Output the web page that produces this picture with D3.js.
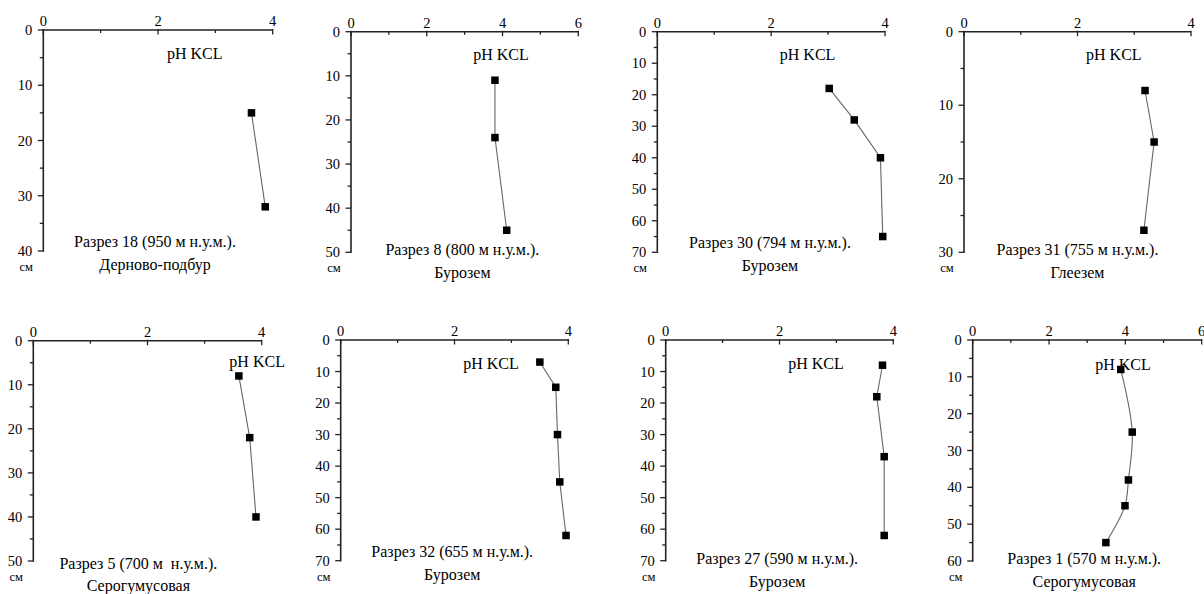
<!DOCTYPE html>
<html><head><meta charset="utf-8">
<script src="https://cdn.jsdelivr.net/npm/d3@7"></script>
</head>
<body style="margin:0">
<svg id="chart" width="1204" height="594"></svg>
<script>
// ---- data ----
const captions = [
  "Разрез 18 (950 м н.у.м.).",
  "Разрез 8 (800 м н.у.м.).",
  "Разрез 30 (794 м н.у.м.).",
  "Разрез 31 (755 м н.у.м.).",
  "Разрез 5 (700 м\u00A0 н.у.м.).",
  "Разрез 32 (655 м н.у.м.).",
  "Разрез 27 (590 м н.у.м.).",
  "Разрез 1 (570 м н.у.м.)."
];
const soilTypes = ["Дерново-подбур","Бурозем","Бурозем","Глеезем","Серогумусовая","Бурозем","Бурозем","Серогумусовая"];
const depths = [
  [15, 32],
  [11, 24, 45],
  [18, 28, 40, 65],
  [8, 15, 27],
  [8, 22, 40],
  [7, 15, 30, 45, 62],
  [8, 18, 37, 62],
  [8, 25, 38, 45, 55]
];
const phKCL = [
  [3.63, 3.87],
  [3.80, 3.80, 4.11],
  [3.02, 3.46, 3.92, 3.96],
  [3.19, 3.35, 3.17],
  [3.60, 3.79, 3.90],
  [3.50, 3.78, 3.81, 3.85, 3.96],
  [3.81, 3.71, 3.84, 3.84],
  [3.88, 4.18, 4.08, 3.99, 3.49]
];
const xMax = [4, 6, 4, 4, 4, 4, 4, 6];
const yMax = [40, 50, 70, 30, 50, 70, 70, 60];
const xTickLabels = { 4: [0, 2, 4], 6: [0, 2, 4, 6] };
const seriesLabel = "pH KCL";
const unitLabel = "см";

// ---- layout ----
const frames = [
  {x0:43.3, x1:272.7, y0:30,   y1:251},
  {x0:351,  x1:578.3, y0:31.7, y1:252.3},
  {x0:657.3,x1:885,   y0:31.7, y1:252.3},
  {x0:964,  x1:1191,  y0:31.7, y1:252.3},
  {x0:33.3, x1:261.7, y0:340.7,y1:561},
  {x0:340.7,x1:568.3, y0:340,  y1:560.7},
  {x0:665.7,x1:893.3, y0:340,  y1:560.7},
  {x0:972.7,x1:1201.7,y0:340,  y1:561}
];
const labelFrac = [0.66,0.66,0.66,0.66,0.98,0.66,0.66,0.656];
const labelOff  = [28.7,28,28,28,26.3,29.3,29.3,30];
const capFrac = [0.487,0.49,0.495,0.5,0.46,0.49,0.49,0.487];
const capBase = [247,255.3,247.7,255.3,569.3,557,563.7,564.3];
const smooth = [false,false,false,false,false,false,false,true];

const svg = d3.select("#chart");
const fam = "Liberation Serif";

function txt(size) {
  return svg.append("text").attr("font-size", size)
    .style("font-family", `"${fam}"`);
}

frames.forEach((f, i) => {
  const x = d3.scaleLinear().domain([0, xMax[i]]).range([f.x0, f.x1]);
  const y = d3.scaleLinear().domain([0, yMax[i]]).range([f.y0, f.y1]);

  const xMinor = d3.range(0, xMax[i] + 0.001, 1);
  const yMinor = d3.range(0, yMax[i] + 0.001, 5);
  const yMajor = d3.range(0, yMax[i] + 0.001, 10);

  xMinor.forEach(d => {
    svg.append("line").attr("x1", x(d)).attr("x2", x(d))
      .attr("y1", f.y0 - (d % 2 === 0 ? 1 : 0))
      .attr("y2", f.y0 + (d % 2 === 0 ? 4.5 : 3))
      .attr("stroke", "#222").attr("stroke-width", 1.3);
  });
  yMinor.forEach(d => {
    svg.append("line").attr("y1", y(d)).attr("y2", y(d))
      .attr("x1", f.x0).attr("x2", f.x0 - (d % 10 === 0 ? 5.5 : 3.5))
      .attr("stroke", "#222").attr("stroke-width", 1.3);
  });

  svg.append("line").attr("x1", f.x0 - 0.7).attr("x2", f.x1).attr("y1", f.y0).attr("y2", f.y0)
    .attr("stroke", "#222").attr("stroke-width", 1.6);
  svg.append("line").attr("x1", f.x0).attr("x2", f.x0).attr("y1", f.y0).attr("y2", f.y1 + 0.7)
    .attr("stroke", "#222").attr("stroke-width", 1.6);

  xTickLabels[xMax[i]].forEach(d => {
    txt(14.5).attr("x", x(d)).attr("y", f.y0 - 4).attr("text-anchor", "middle").text(d);
  });
  yMajor.forEach(d => {
    txt(14.5).attr("x", f.x0 - 11).attr("y", y(d) + 5).attr("text-anchor", "end").text(d);
  });

  txt(12.5).attr("x", f.x0 - 17).attr("y", f.y1 + 20).attr("text-anchor", "middle").text(unitLabel);

  txt(16).attr("x", f.x0 + labelFrac[i] * (f.x1 - f.x0)).attr("y", f.y0 + labelOff[i])
    .attr("text-anchor", "middle").text(seriesLabel);

  const pts = depths[i].map((d, k) => [phKCL[i][k], d]);
  const line = d3.line().x(d => x(d[0])).y(d => y(d[1]))
    .curve(smooth[i] ? d3.curveCatmullRom.alpha(0.5) : d3.curveLinear);
  svg.append("path").attr("d", line(pts)).attr("fill", "none")
    .attr("stroke", "#666").attr("stroke-width", 1.1);

  const s = 7.5;
  pts.forEach(d => {
    svg.append("rect").attr("x", x(d[0]) - s / 2).attr("y", y(d[1]) - s / 2)
      .attr("width", s).attr("height", s).attr("fill", "#000");
  });

  const cx = f.x0 + capFrac[i] * (f.x1 - f.x0);
  txt(16).attr("x", cx).attr("y", capBase[i]).attr("text-anchor", "middle").text(captions[i]);
  txt(16).attr("x", cx).attr("y", Math.min(capBase[i] + 23, 591)).attr("text-anchor", "middle").text(soilTypes[i]);
});
</script>
</body></html>
